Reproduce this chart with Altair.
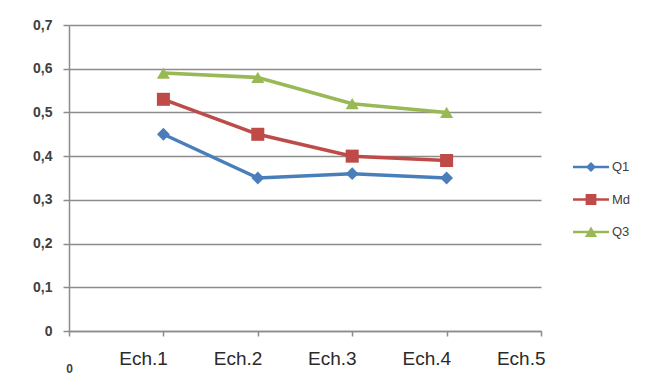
import altair as alt
import pandas as pd

categories = [1, 2, 3, 4]
series_names = ["Q1", "Md", "Q3"]
q1 = [0.45, 0.35, 0.36, 0.35]
md = [0.53, 0.45, 0.40, 0.39]
q3 = [0.59, 0.58, 0.52, 0.50]
colors = ["#4a7ebb", "#be4b48", "#98b954"]
shapes = ["diamond", "square", "triangle-up"]
marker_sizes = [165, 170, 170]
# legend glyphs: line segment + marker (unit box -1..1)
legend_shapes = [
    "M-1,-0.07H1V0.07H-1Z M0,-0.28L0.28,0L0,0.28L-0.28,0Z",
    "M-1,-0.07H1V0.07H-1Z M-0.3,-0.3H0.3V0.3H-0.3Z",
    "M-1,-0.07H1V0.07H-1Z M0,-0.3L0.34,0.28H-0.34Z",
]

rows = []
for name, vals in zip(series_names, [q1, md, q3]):
    for c, v in zip(categories, vals):
        rows.append({"serie": name, "ech": c, "val": v})
df = pd.DataFrame(rows)

x_enc = alt.X(
    "ech:Q",
    scale=alt.Scale(domain=[0, 5], nice=False, zero=False),
    axis=alt.Axis(
        values=[0, 1, 2, 3, 4, 5],
        title=None,
        grid=False,
        labelExpr="datum.value == 0 ? ['', '0'] : 'Ech.' + datum.value",
        labelAlign={"condition": {"test": "datum.value == 0", "value": "center"}, "value": "right"},
        labelFontSize={"condition": {"test": "datum.value == 0", "value": 12}, "value": 19},
        labelFontWeight={"condition": {"test": "datum.value == 0", "value": "bold"}, "value": "normal"},
        labelColor={"condition": {"test": "datum.value == 0", "value": "#404040"}, "value": "#2a2a2a"},
        labelOffset={"condition": {"test": "datum.value == 0", "value": 0}, "value": 4},
        labelBaseline="top",
        labelPadding=13,
        tickSize=5,
        tickColor="#8c8c8c",
        domainColor="#8c8c8c",
        domainWidth=1.5,
        tickWidth=1.5,
        labelFont="Liberation Sans",
        labelFlush=False,
        labelOverlap=False,
    ),
)
y_enc = alt.Y(
    "val:Q",
    scale=alt.Scale(domain=[0, 0.7], nice=False),
    axis=alt.Axis(
        values=[0, 0.1, 0.2, 0.3, 0.4, 0.5, 0.6, 0.7],
        title=None,
        grid=True,
        gridColor="#8c8c8c",
        gridWidth=1.5,
        labelExpr="datum.value == 0 ? '0' : replace(format(datum.value, '.1f'), '.', ',')",
        labelFontSize=14,
        labelFontWeight="bold",
        labelColor="#404040",
        labelFont="Liberation Sans",
        labelPadding=11,
        tickSize=6,
        tickColor="#8c8c8c",
        domainColor="#8c8c8c",
        domainWidth=1.5,
        tickWidth=1.5,
    ),
)

base = alt.Chart(df)
layers = []
for name, col in zip(series_names, colors):
    sub = base.transform_filter(alt.datum.serie == name)
    layers.append(sub.mark_line(strokeWidth=3.5, color=col).encode(x=x_enc, y=y_enc))
for name, col, shp, sz in zip(series_names, colors, shapes, marker_sizes):
    sub = base.transform_filter(alt.datum.serie == name)
    layers.append(
        sub.mark_point(filled=True, size=sz, opacity=1, shape=shp, color=col).encode(
            x="ech:Q", y="val:Q"
        )
    )

leg_props = dict(
    title=None,
    orient="none",
    legendX=504,
    legendY=124,
    symbolSize=1296,
    symbolOpacity=1,
    symbolStrokeWidth=0,
    rowPadding=7.5,
    padding=0,
    labelFontSize=13,
    labelColor="#404040",
    labelFont="Liberation Sans",
    labelOffset=3,
)
legend_layer = base.transform_filter("datum.val < 0").mark_point(filled=True).encode(
    x="ech:Q",
    y="val:Q",
    color=alt.Color(
        "serie:N",
        scale=alt.Scale(domain=series_names, range=colors),
        legend=alt.Legend(**leg_props),
    ),
    shape=alt.Shape(
        "serie:N",
        scale=alt.Scale(domain=series_names, range=legend_shapes),
        legend=alt.Legend(**leg_props),
    ),
)
layers.append(legend_layer)

chart = (
    alt.layer(*layers)
    .properties(
        width=472,
        height=306,
        autosize=alt.AutoSizeParams(type="none"),
        padding={"left": 69, "top": 25, "right": 107, "bottom": 61},
        background="white",
    )
    .configure_view(stroke=None)
)

chart.save("out.html", embed_options={"renderer": "svg", "actions": False})
